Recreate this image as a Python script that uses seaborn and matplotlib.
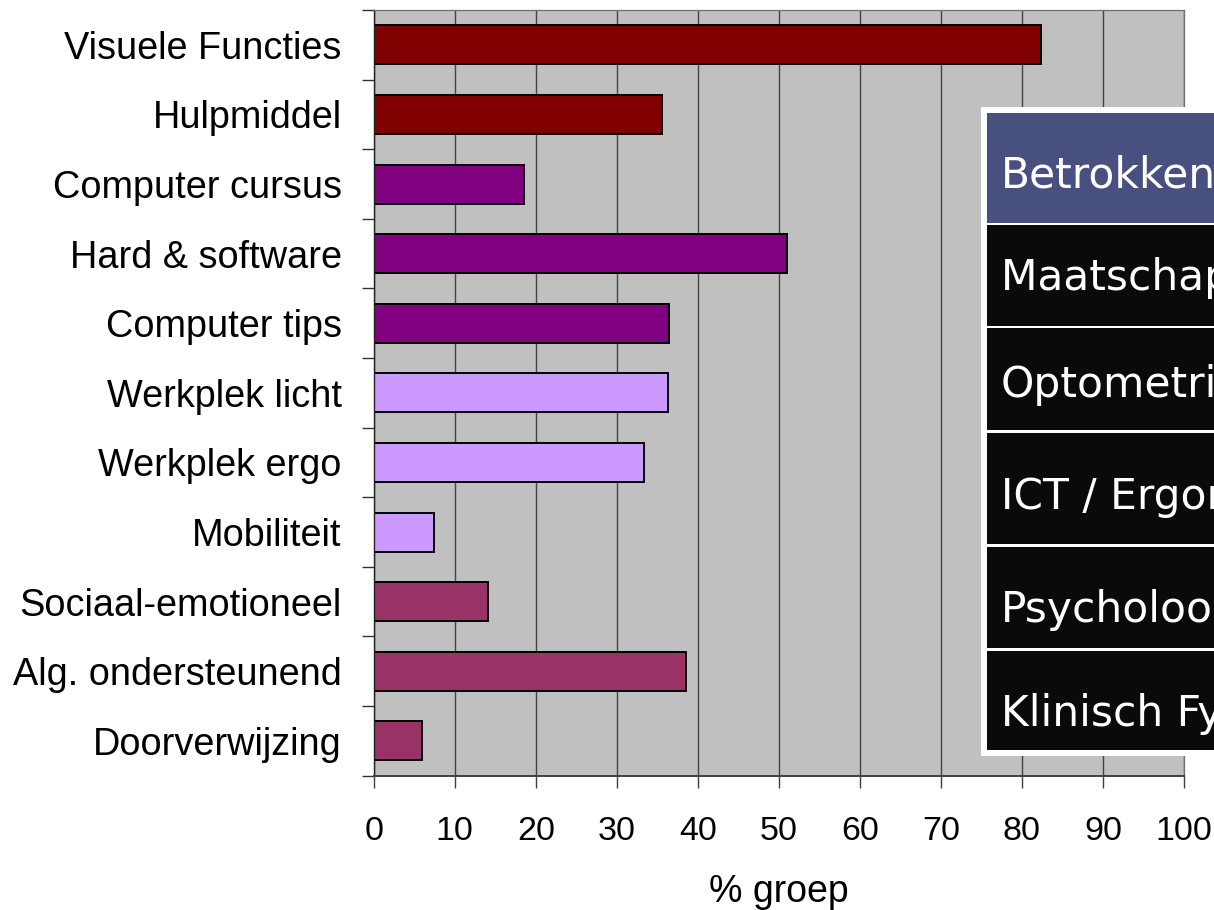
import numpy as np
import matplotlib
matplotlib.use("Agg")
import matplotlib.pyplot as plt
from matplotlib.patches import Rectangle
import seaborn as sns

plt.rcParams['font.family'] = ['Liberation Sans', 'DejaVu Sans']

categories = ["Visuele Functies", "Hulpmiddel", "Computer cursus", "Hard & software",
              "Computer tips", "Werkplek licht", "Werkplek ergo", "Mobiliteit",
              "Sociaal-emotioneel", "Alg. ondersteunend", "Doorverwijzing"]
values = [82.3, 35.6, 18.6, 51.0, 36.4, 36.3, 33.4, 7.4, 14.1, 38.6, 6.0]
bar_colors = ["#800000", "#800000", "#800080", "#800080", "#800080",
              "#CC99FF", "#CC99FF", "#CC99FF", "#993366", "#993366", "#993366"]
x_ticks = [0, 10, 20, 30, 40, 50, 60, 70, 80, 90, 100]
x_label = "% groep"

table_labels = ["Betrokkenen", "Maatschappelijk werk", "Optometrist",
                "ICT / Ergonoom", "Psycholoog", "Klinisch Fysicus"]
table_colors = ["#485080", "#0A0A0A", "#0A0A0A", "#0A0A0A", "#0A0A0A", "#0A0A0A"]

W, H = 1214, 910
fig = plt.figure(figsize=(W / 100, H / 100), dpi=100)
fig.patch.set_facecolor("white")

left_px, right_px, top_px, bot_px = 373.7, 1184.0, 10.0, 775.7
ax = fig.add_axes([left_px / W, 1 - bot_px / H, (right_px - left_px) / W, (bot_px - top_px) / H])
ax.set_facecolor("#C0C0C0")

sns.barplot(x=values, y=categories, hue=categories, palette=bar_colors, legend=False,
            orient="h", width=0.56, edgecolor="black", linewidth=1.4, saturation=1, ax=ax)

ax.set_xlim(0, 100)
ax.set_ylim(len(categories) - 0.5, -0.5)
ax.set_xticks(x_ticks)
ax.set_xticklabels([str(t) for t in x_ticks])
ax.set_axisbelow(True)
ax.xaxis.grid(True, color="#444444", linewidth=1.0)
ax.yaxis.grid(False)

ax.set_yticks(range(len(categories)))
ax.set_yticklabels(categories)
ax.set_yticks(np.arange(-0.5, len(categories), 1.0), minor=True)
ax.tick_params(axis="y", which="major", length=0, pad=23, labelsize=27.3, labelcolor="black")
ax.tick_params(axis="y", which="minor", length=8.6, width=1.0, color="#333333")
ax.tick_params(axis="x", which="major", length=8.3, width=1.0, color="#404040",
               pad=20.5, labelsize=24.5, labelcolor="black")
ax.set_xlabel(x_label, fontsize=27, labelpad=20)
ax.set_ylabel("")

for s in ["top", "right"]:
    ax.spines[s].set_color("#707070")
    ax.spines[s].set_linewidth(0.9)
ax.spines["left"].set_color("#202020")
ax.spines["left"].set_linewidth(1.0)
ax.spines["bottom"].set_color("#404040")
ax.spines["bottom"].set_linewidth(1.4)


def rect_px(x0, y0, x1, y1, color):
    r = Rectangle((x0 / W, 1 - y1 / H), (x1 - x0) / W, (y1 - y0) / H,
                  transform=fig.transFigure, facecolor=color, edgecolor="none", zorder=5)
    fig.add_artist(r)


# overlay table
rect_px(981, 107, W + 10, 756, "white")
cell_bounds = [(113, 223), (225, 326), (328, 430), (433, 544), (547, 648), (651, 750)]
baselines = [188, 290, 397, 509, 622, 726]
for (y0, y1), col, lab, bl in zip(cell_bounds, table_colors, table_labels, baselines):
    rect_px(987, y0, W + 10, y1, col)
    fig.text(1001 / W, 1 - bl / H, lab, color="white", fontsize=30.5,
             family=["DejaVu Sans"], va="baseline", ha="left", zorder=6)

fig.savefig("out.png", dpi=100)
